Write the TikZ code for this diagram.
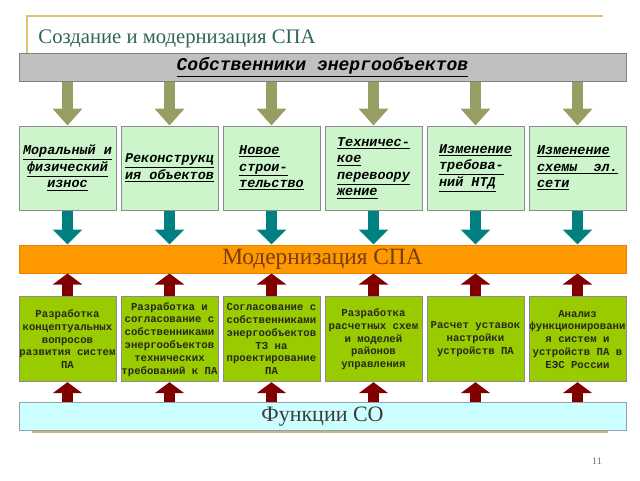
\documentclass[tikz,border=0pt]{standalone}
\usepackage{fontspec}
\setmainfont{Liberation Serif}
\newfontfamily\courfont{Liberation Mono}
\usetikzlibrary{arrows.meta}

\tikzset{every picture/.style={line width=0.75pt}}
\tikzset{
  ownbar/.style={draw={rgb, 255:red, 128; green, 128; blue, 128 }, fill={rgb, 255:red, 192; green, 192; blue, 192 }, minimum width=455.25pt, minimum height=21.4pt, inner sep=0pt},
  modbar/.style={draw={rgb, 255:red, 230; green, 130; blue, 0 }, fill={rgb, 255:red, 255; green, 153; blue, 0 }, minimum width=455.25pt, minimum height=21pt, inner sep=0pt},
  funcbar/.style={draw={rgb, 255:red, 150; green, 160; blue, 170 }, fill={rgb, 255:red, 204; green, 255; blue, 255 }, minimum width=455.25pt, minimum height=20.5pt, inner sep=0pt},
  topbox/.style={draw={rgb, 255:red, 140; green, 140; blue, 140 }, fill={rgb, 255:red, 204; green, 245; blue, 204 }, minimum width=72.75pt, minimum height=63pt, inner sep=0pt, align=left, font=\courfont\bfseries\itshape\fontsize{10.1}{12.4}\selectfont},
  botbox/.style={draw={rgb, 255:red, 140; green, 140; blue, 140 }, fill={rgb, 255:red, 153; green, 204; blue, 0 }, minimum width=72.75pt, minimum height=63.75pt, inner sep=0pt, align=center, text={rgb, 255:red, 40; green, 40; blue, 30 }, font=\courfont\bfseries\fontsize{8}{9.6}\selectfont},
  olivearrow/.style={draw={rgb, 255:red, 150; green, 158; blue, 100 }, line width=8.25pt, -{Triangle[width=21.75pt, length=12.75pt]}},
  tealarrow/.style={draw={rgb, 255:red, 0; green, 128; blue, 128 }, line width=7.9pt, -{Triangle[width=21.75pt, length=11.25pt]}},
  redarrow/.style={draw={rgb, 255:red, 128; green, 0; blue, 0 }, line width=7.9pt, -{Triangle[width=21.75pt, length=8.25pt]}}
}

\begin{document}
\begin{tikzpicture}[x=0.75pt,y=0.75pt,yscale=-1,xscale=1]
\useasboundingbox (0,0) rectangle (640,480);

%Title frame
\draw [color={rgb, 255:red, 222; green, 194; blue, 110 }, line width=1.1pt]  (27,53) -- (27,16) -- (603,16) ;
% Text Node
\node [anchor=base west, inner sep=0pt, color={rgb, 255:red, 48; green, 100; blue, 82 }, font=\fontsize{15.5}{19}\selectfont] (title) at (38,43) {Создание и модернизация СПА};

%Bars
\node [ownbar, font=\courfont\bfseries\itshape\fontsize{13.5}{16}\selectfont] (owners) at (322.5,67.5) {\underline{Собственники энергообъектов}};
\node [modbar, font=\fontsize{17.5}{20}\selectfont, text={rgb, 255:red, 120; green, 60; blue, 10 }] (modern) at (322.5,259) {Модернизация СПА};
%Shadow
\draw [color={rgb, 255:red, 200; green, 182; blue, 125 }, line width=1.5pt]  (32,432) -- (608,432) ;
\node [funcbar, font=\fontsize{16.5}{19}\selectfont, text={rgb, 255:red, 60; green, 60; blue, 60 }] (funcs) at (322.5,416.5) {Функции СО};

%Upper boxes
\node [topbox, align=center] (up1) at (67.5,168) {\underline{Моральный и}\\\underline{физический}\\\underline{износ}};
\node [topbox] (up2) at (169.5,168) {\underline{Реконструкц}\\\underline{ия объектов}};
\node [topbox] (up3) at (271.5,168) {\underline{Новое}\\\underline{строи-}\\\underline{тельство}};
\node [topbox] (up4) at (373.5,168) {\underline{Техничес-}\\\underline{кое}\\\underline{перевоору}\\\underline{жение}};
\node [topbox] (up5) at (475.5,168) {\underline{Изменение}\\\underline{требова-}\\\underline{ний НТД}};
\node [topbox] (up6) at (577.5,168) {\underline{Изменение}\\\underline{схемы\ \ эл.}\\\underline{сети}};

%Lower boxes
\node [botbox] (lo1) at (67.5,339.2) {Разработка\\концептуальных\\вопросов\\развития систем\\ПА};
\node [botbox] (lo2) at (169.5,339.2) {Разработка и\\согласование с\\собственниками\\энергообъектов\\технических\\требований к ПА};
\node [botbox] (lo3) at (271.5,339.2) {Согласование с\\собственниками\\энергообъектов\\ТЗ на\\проектирование\\ПА};
\node [botbox] (lo4) at (373.5,339.2) {Разработка\\расчетных схем\\и моделей\\районов\\управления};
\node [botbox] (lo5) at (475.5,339.2) {Расчет уставок\\настройки\\устройств ПА};
\node [botbox] (lo6) at (577.5,339.2) {Анализ\\функционировани\\я систем и\\устройств ПА в\\ЕЭС России};

%Block arrows: owners -> upper boxes
\draw [olivearrow] (up1.north |- owners.south) -- (up1.north) ;
\draw [olivearrow] (up2.north |- owners.south) -- (up2.north) ;
\draw [olivearrow] (up3.north |- owners.south) -- (up3.north) ;
\draw [olivearrow] (up4.north |- owners.south) -- (up4.north) ;
\draw [olivearrow] (up5.north |- owners.south) -- (up5.north) ;
\draw [olivearrow] (up6.north |- owners.south) -- (up6.north) ;

%Block arrows: upper boxes -> modernisation
\draw [tealarrow] (up1.south) -- (up1.south |- modern.north) ;
\draw [tealarrow] (up2.south) -- (up2.south |- modern.north) ;
\draw [tealarrow] (up3.south) -- (up3.south |- modern.north) ;
\draw [tealarrow] (up4.south) -- (up4.south |- modern.north) ;
\draw [tealarrow] (up5.south) -- (up5.south |- modern.north) ;
\draw [tealarrow] (up6.south) -- (up6.south |- modern.north) ;

%Block arrows: lower boxes -> modernisation
\draw [redarrow] (lo1.north) -- (lo1.north |- modern.south) ;
\draw [redarrow] (lo2.north) -- (lo2.north |- modern.south) ;
\draw [redarrow] (lo3.north) -- (lo3.north |- modern.south) ;
\draw [redarrow] (lo4.north) -- (lo4.north |- modern.south) ;
\draw [redarrow] (lo5.north) -- (lo5.north |- modern.south) ;
\draw [redarrow] (lo6.north) -- (lo6.north |- modern.south) ;

%Block arrows: functions -> lower boxes
\draw [redarrow] (lo1.south |- funcs.north) -- (lo1.south) ;
\draw [redarrow] (lo2.south |- funcs.north) -- (lo2.south) ;
\draw [redarrow] (lo3.south |- funcs.north) -- (lo3.south) ;
\draw [redarrow] (lo4.south |- funcs.north) -- (lo4.south) ;
\draw [redarrow] (lo5.south |- funcs.north) -- (lo5.south) ;
\draw [redarrow] (lo6.south |- funcs.north) -- (lo6.south) ;

% Text Node
\node [anchor=base, inner sep=0pt, color={rgb, 255:red, 110; green, 110; blue, 110 }, font=\fontsize{7.5}{9}\selectfont] (pageno) at (597,464) {11};

\end{tikzpicture}
\end{document}
